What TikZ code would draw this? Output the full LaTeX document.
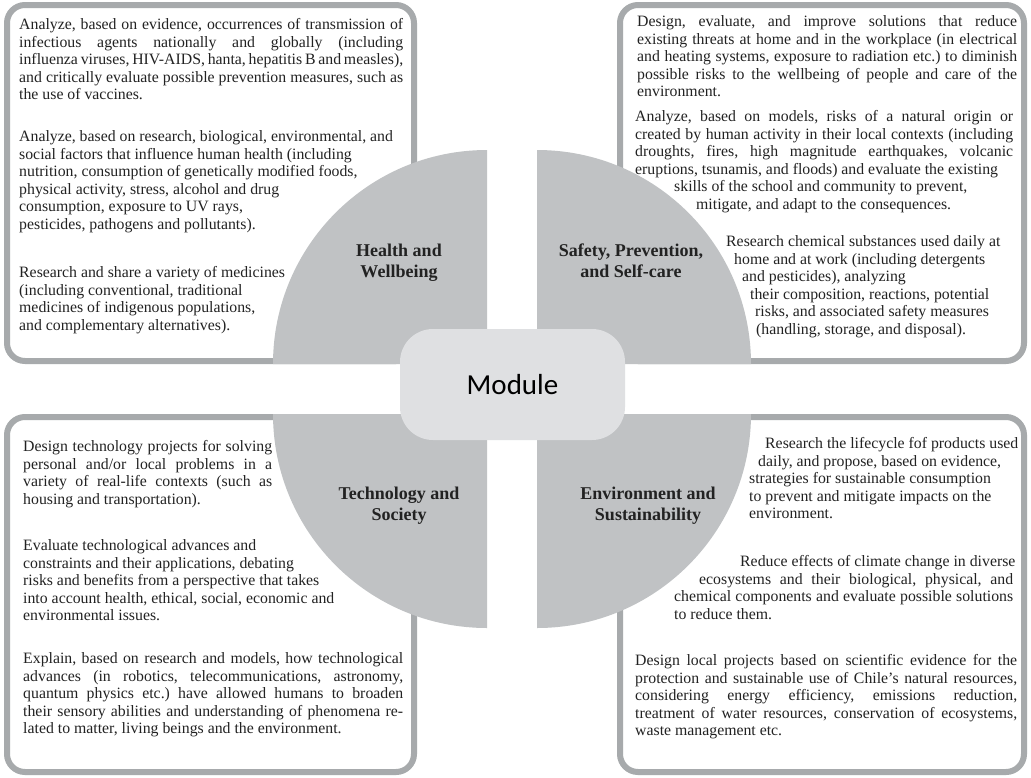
\documentclass[tikz,border=0pt]{standalone}
\usepackage{fontspec}
\setmainfont{Liberation Serif}
\newfontfamily\modfont{Carlito}
\definecolor{boxc}{HTML}{A7AAAC}
\definecolor{quarc}{HTML}{C0C2C4}
\definecolor{modc}{HTML}{DFE0E2}
\definecolor{txtc}{HTML}{222222}
\newcommand\bodyf{\frenchspacing\fontsize{15.8pt}{17.5pt}\selectfont}
\newcommand\headf{\bfseries\fontsize{18pt}{21pt}\selectfont}
\newcommand\J[2]{{\spaceskip=0pt\xspaceskip=0pt\makebox[#1pt][s]{#2}}}
\tikzset{
  boxline/.style={draw=boxc, line width=6pt, fill=white, rounded corners=18pt},
  quarter/.style={fill=quarc},
  para/.style={anchor=north west, inner sep=0pt, text width=430pt, align=flush left, font=\bodyf, text=txtc},
  headnode/.style={anchor=north, inner sep=0pt, align=center, font=\headf, text=txtc},
  modbox/.style={fill=modc, rounded corners=33pt, minimum width=225pt, minimum height=111pt, inner sep=0pt, text height=19pt, text depth=0pt, font=\modfont\fontsize{29pt}{34pt}\selectfont, text=black}
}
\begin{document}
\begin{tikzpicture}[x=1pt,y=1pt]
\useasboundingbox (0,0) rectangle (1031,-777);
\fill[white] (0,0) rectangle (1031,-777);
% boxes
\draw[boxline] (7,-5) rectangle (414,-361);
\draw[boxline] (620,-5) rectangle (1024,-361);
\draw[boxline] (7,-417) rectangle (414,-772);
\draw[boxline] (620,-417) rectangle (1024,-772);
% quarter circles
\fill[quarter] (487,-364) -- (273,-364) arc[start angle=180, end angle=90, radius=214pt] -- cycle;
\fill[quarter] (537,-364) -- (537,-150) arc[start angle=90, end angle=0, radius=214pt] -- cycle;
\fill[quarter] (487,-414) -- (273,-414) arc[start angle=180, end angle=270, radius=214pt] -- cycle;
\fill[quarter] (537,-414) -- (751,-414) arc[start angle=0, end angle=-90, radius=214pt] -- cycle;
% module
\node[modbox] (mod) at (512.5,-384.5) {Module};
% headings
\node[headnode] (h1) at (399,-241.8) {\strut Health and\\Wellbeing};
\node[headnode] (h2) at (631,-241.8) {\strut Safety, Prevention,\\and Self-care};
\node[headnode] (h3) at (399,-484.3) {\strut Technology and\\Society};
\node[headnode] (h4) at (648,-484.3) {\strut Environment and\\Sustainability};
% top left
\node[para] (tl1) at (19,-17.05) {\strut\J{384}{Analyze, based on evidence, occurrences of transmission of}\\
\J{384}{infectious agents nationally and globally (including}\\
\J{384}{influenza viruses, HIV-AIDS, hanta, hepatitis B and measles),}\\
\J{384}{and critically evaluate possible prevention measures, such as}\\
the use of vaccines.};
\node[para] (tl2) at (19,-129.25) {\strut Analyze, based on research, biological, environmental, and\\
social factors that influence human health (including\\
nutrition, consumption of genetically modified foods,\\
physical activity, stress, alcohol and drug\\
consumption, exposure to UV rays,\\
pesticides, pathogens and pollutants).};
\node[para] (tl3) at (19,-265.25) {\strut Research and share a variety of medicines\\
(including conventional, traditional\\
medicines of indigenous populations,\\
and complementary alternatives).};
% top right
\node[para] (tr1) at (637,-14.05) {\strut\J{380}{Design, evaluate, and improve solutions that reduce}\\
\J{380}{existing threats at home and in the workplace (in electrical}\\
\J{380}{and heating systems, exposure to radiation etc.) to diminish}\\
\J{380}{possible risks to the wellbeing of people and care of the}\\
environment.};
\node[para] (tr2) at (635,-109.05) {\strut\J{378}{Analyze, based on models, risks of a natural origin or}\\
\J{378}{created by human activity in their local contexts (including}\\
\J{378}{droughts, fires, high magnitude earthquakes, volcanic}\\
eruptions, tsunamis, and floods) and evaluate the existing\\
\hspace*{39pt}skills of the school and community to prevent,\\
\hspace*{61pt}mitigate, and adapt to the consequences.};
\node[para] (tr3) at (726,-234.05) {\strut Research chemical substances used daily at\\
\hspace*{8pt}home and at work (including detergents\\
\hspace*{16pt}and pesticides), analyzing\\
\hspace*{24pt}their composition, reactions, potential\\
\hspace*{29pt}risks, and associated safety measures\\
\hspace*{30pt}(handling, storage, and disposal).};
% bottom left
\node[para] (bl1) at (23,-439.05) {\strut\J{249}{Design technology projects for solving}\\
\J{249}{personal and/or local problems in a}\\
\J{249}{variety of real-life contexts (such as}\\
housing and transportation).};
\node[para] (bl2) at (23,-538.25) {\strut Evaluate technological advances and\\
constraints and their applications, debating\\
risks and benefits from a perspective that takes\\
into account health, ethical, social, economic and\\
environmental issues.};
\node[para] (bl3) at (23,-651.25) {\strut\J{380}{Explain, based on research and models, how technological}\\
\J{380}{advances (in robotics, telecommunications, astronomy,}\\
\J{380}{quantum physics etc.) have allowed humans to broaden}\\
\J{380}{their sensory abilities and understanding of phenomena re-}\\
lated to matter, living beings and the environment.};
% bottom right
\node[para] (br1) at (749,-436.05) {\strut\hspace*{16pt}Research the lifecycle fof products used\\
\hspace*{9pt}daily, and propose, based on evidence,\\
strategies for sustainable consumption\\
to prevent and mitigate impacts on the\\
environment.};
\node[para] (br2) at (674,-554.25) {\strut\hspace*{66pt}Reduce effects of climate change in diverse\\
\hspace*{25pt}\J{314}{ecosystems and their biological, physical, and}\\
\J{339}{chemical components and evaluate possible solutions}\\
to reduce them.};
\node[para] (br3) at (635,-653.25) {\strut\J{382}{Design local projects based on scientific evidence for the}\\
\J{382}{protection and sustainable use of Chile’s natural resources,}\\
\J{382}{considering energy efficiency, emissions reduction,}\\
\J{382}{treatment of water resources, conservation of ecosystems,}\\
waste management etc.};
\end{tikzpicture}
\end{document}
